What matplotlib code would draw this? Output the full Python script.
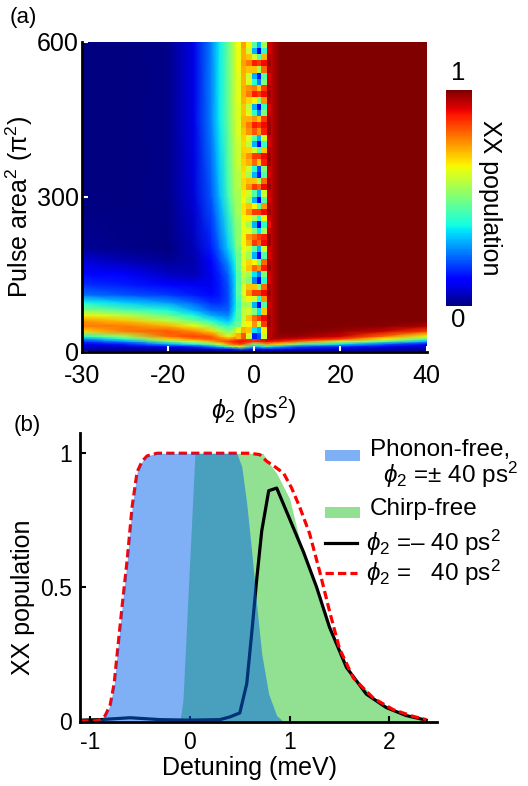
import matplotlib
matplotlib.use("Agg")
import matplotlib.pyplot as plt
import numpy as np
from matplotlib.lines import Line2D
from matplotlib.patches import Rectangle

plt.rcParams["font.family"] = ["Liberation Sans", "DejaVu Sans"]
plt.rcParams["mathtext.fontset"] = "custom"
plt.rcParams["mathtext.rm"] = "Liberation Sans"
plt.rcParams["mathtext.it"] = "Liberation Sans:italic"
plt.rcParams["mathtext.fallback"] = "stixsans"
plt.rcParams["axes.unicode_minus"] = False

# ---------------- panel (a): XX population vs phi2 and pulse area ----------------
map_phi2 = [-40, -30, -20, -14, -10, -8, -6, -4.5, -3, 0, 3, 4.5, 6, 10, 20, 30, 40]
map_area = [0, 5, 10, 15, 20, 25, 30, 40, 50, 60, 70, 80, 95, 110, 130, 150, 175, 200, 300, 450, 600]
# one row per pulse area, one value per phi2 column
map_pop = [
    [0.00, 0.00, 0.00, 0.00, 0.00, 0.00, 0.00, 0.00, 0.00, 0.00, 0.00, 0.00, 0.00, 0.00, 0.00, 0.00, 0.00],
    [0.03, 0.03, 0.03, 0.04, 0.06, 0.08, 0.12, 0.15, 0.20, 0.10, 0.12, 0.10, 0.10, 0.08, 0.06, 0.04, 0.03],
    [0.06, 0.07, 0.12, 0.15, 0.25, 0.33, 0.45, 0.55, 0.60, 0.30, 0.40, 0.33, 0.30, 0.20, 0.15, 0.10, 0.06],
    [0.10, 0.15, 0.30, 0.38, 0.50, 0.62, 0.75, 0.82, 0.85, 0.50, 0.75, 0.70, 0.68, 0.50, 0.35, 0.22, 0.12],
    [0.17, 0.27, 0.48, 0.60, 0.72, 0.80, 0.85, 0.88, 0.90, 0.85, 0.90, 0.88, 0.87, 0.80, 0.60, 0.45, 0.30],
    [0.27, 0.40, 0.68, 0.78, 0.82, 0.80, 0.75, 0.80, 0.85, 0.88, 0.95, 0.95, 0.95, 0.92, 0.85, 0.65, 0.45],
    [0.40, 0.55, 0.80, 0.84, 0.82, 0.72, 0.62, 0.70, 0.78, 0.60, 0.90, 0.97, 0.98, 0.98, 0.93, 0.80, 0.62],
    [0.68, 0.78, 0.82, 0.76, 0.68, 0.57, 0.50, 0.57, 0.65, 0.60, 0.90, 0.96, 1.00, 1.00, 0.98, 0.93, 0.85],
    [0.78, 0.78, 0.72, 0.63, 0.53, 0.46, 0.40, 0.47, 0.52, 0.60, 0.90, 0.96, 1.00, 1.00, 1.00, 0.99, 0.96],
    [0.75, 0.70, 0.58, 0.49, 0.40, 0.35, 0.32, 0.40, 0.47, 0.60, 0.90, 0.96, 1.00, 1.00, 1.00, 1.00, 1.00],
    [0.65, 0.58, 0.48, 0.38, 0.30, 0.27, 0.26, 0.37, 0.47, 0.60, 0.90, 0.96, 1.00, 1.00, 1.00, 1.00, 1.00],
    [0.52, 0.46, 0.39, 0.30, 0.23, 0.22, 0.22, 0.35, 0.46, 0.60, 0.90, 0.96, 1.00, 1.00, 1.00, 1.00, 1.00],
    [0.38, 0.33, 0.28, 0.22, 0.17, 0.17, 0.20, 0.33, 0.45, 0.60, 0.90, 0.96, 1.00, 1.00, 1.00, 1.00, 1.00],
    [0.24, 0.21, 0.18, 0.15, 0.13, 0.15, 0.20, 0.33, 0.45, 0.60, 0.90, 0.96, 1.00, 1.00, 1.00, 1.00, 1.00],
    [0.17, 0.15, 0.12, 0.10, 0.10, 0.15, 0.21, 0.33, 0.45, 0.60, 0.90, 0.96, 1.00, 1.00, 1.00, 1.00, 1.00],
    [0.13, 0.11, 0.06, 0.05, 0.10, 0.16, 0.23, 0.34, 0.45, 0.60, 0.90, 0.96, 1.00, 1.00, 1.00, 1.00, 1.00],
    [0.08, 0.05, 0.02, 0.04, 0.12, 0.19, 0.27, 0.37, 0.47, 0.60, 0.90, 0.96, 1.00, 1.00, 1.00, 1.00, 1.00],
    [0.02, 0.01, 0.00, 0.05, 0.15, 0.23, 0.33, 0.43, 0.52, 0.60, 0.90, 0.96, 1.00, 1.00, 1.00, 1.00, 1.00],
    [0.00, 0.00, 0.01, 0.08, 0.21, 0.31, 0.43, 0.54, 0.61, 0.60, 0.90, 0.96, 1.00, 1.00, 1.00, 1.00, 1.00],
    [0.00, 0.00, 0.01, 0.09, 0.25, 0.36, 0.48, 0.58, 0.65, 0.60, 0.90, 0.96, 1.00, 1.00, 1.00, 1.00, 1.00],
    [0.00, 0.00, 0.01, 0.09, 0.25, 0.36, 0.48, 0.58, 0.65, 0.60, 0.90, 0.96, 1.00, 1.00, 1.00, 1.00, 1.00],
]

# oscillating stripe around phi2 = 0 (pixel cells, read row by row)
stripe_phi2_edges = [-4.26, -3.02, -1.79, -0.54, 0.54, 1.63, 2.86, 3.95]
stripe_area_edges = np.arange(24, 601, 12)
stripe_pop = [
    [0.72, 0.82, 0.60, 0.15, 0.20, 0.60, 0.95],
    [0.62, 0.72, 0.70, 0.35, 0.30, 0.65, 0.95],
    [0.48, 0.62, 0.65, 0.75, 0.60, 0.85, 0.97],
    [0.44, 0.58, 0.70, 0.80, 0.85, 0.90, 0.97],
    [0.44, 0.58, 0.60, 0.50, 0.35, 0.70, 0.95],
    [0.42, 0.55, 0.55, 0.30, 0.10, 0.45, 0.93],
    [0.44, 0.58, 0.65, 0.60, 0.40, 0.75, 0.95],
    [0.46, 0.62, 0.75, 0.85, 0.85, 0.90, 0.97],
    [0.46, 0.60, 0.70, 0.70, 0.50, 0.80, 0.95],
    [0.45, 0.56, 0.50, 0.25, 0.12, 0.40, 0.92],
    [0.45, 0.58, 0.55, 0.35, 0.25, 0.50, 0.93],
    [0.47, 0.62, 0.70, 0.80, 0.75, 0.88, 0.97],
    [0.48, 0.62, 0.68, 0.65, 0.50, 0.80, 0.95],
    [0.48, 0.61, 0.55, 0.30, 0.12, 0.45, 0.92],
    [0.50, 0.63, 0.60, 0.45, 0.30, 0.60, 0.93],
    [0.52, 0.65, 0.72, 0.85, 0.80, 0.90, 0.97],
    [0.52, 0.65, 0.75, 0.80, 0.85, 0.88, 0.97],
    [0.52, 0.63, 0.62, 0.50, 0.35, 0.55, 0.93],
    [0.52, 0.63, 0.55, 0.30, 0.10, 0.40, 0.90],
    [0.53, 0.65, 0.65, 0.55, 0.40, 0.65, 0.93],
    [0.55, 0.67, 0.75, 0.85, 0.85, 0.90, 0.97],
    [0.55, 0.67, 0.70, 0.65, 0.45, 0.75, 0.95],
    [0.55, 0.65, 0.55, 0.30, 0.12, 0.45, 0.92],
    [0.55, 0.66, 0.60, 0.45, 0.30, 0.60, 0.93],
    [0.57, 0.68, 0.75, 0.85, 0.80, 0.90, 0.97],
    [0.57, 0.68, 0.70, 0.70, 0.55, 0.80, 0.95],
    [0.57, 0.67, 0.55, 0.30, 0.15, 0.45, 0.92],
    [0.58, 0.68, 0.60, 0.40, 0.20, 0.50, 0.93],
    [0.59, 0.69, 0.72, 0.80, 0.70, 0.88, 0.97],
    [0.59, 0.70, 0.75, 0.85, 0.85, 0.90, 0.97],
    [0.59, 0.69, 0.68, 0.60, 0.45, 0.70, 0.95],
    [0.59, 0.68, 0.58, 0.30, 0.12, 0.42, 0.92],
    [0.60, 0.69, 0.62, 0.45, 0.30, 0.60, 0.93],
    [0.61, 0.70, 0.75, 0.82, 0.75, 0.88, 0.97],
    [0.61, 0.72, 0.78, 0.88, 0.85, 0.90, 0.97],
    [0.61, 0.72, 0.72, 0.75, 0.70, 0.85, 0.96],
    [0.61, 0.70, 0.62, 0.40, 0.25, 0.50, 0.93],
    [0.61, 0.70, 0.58, 0.30, 0.12, 0.42, 0.92],
    [0.62, 0.72, 0.68, 0.65, 0.50, 0.75, 0.95],
    [0.62, 0.73, 0.78, 0.88, 0.85, 0.90, 0.97],
    [0.62, 0.73, 0.75, 0.78, 0.70, 0.85, 0.96],
    [0.62, 0.72, 0.62, 0.40, 0.25, 0.50, 0.93],
    [0.62, 0.72, 0.60, 0.30, 0.15, 0.45, 0.92],
    [0.63, 0.73, 0.70, 0.70, 0.55, 0.80, 0.95],
    [0.63, 0.74, 0.78, 0.88, 0.85, 0.90, 0.97],
    [0.63, 0.73, 0.70, 0.60, 0.45, 0.72, 0.95],
    [0.63, 0.73, 0.60, 0.30, 0.10, 0.40, 0.92],
    [0.64, 0.74, 0.65, 0.45, 0.30, 0.55, 0.93],
]

map_xticks = [-40, -20, 0, 20, 40]
map_xtick_labels = ["-30", "-20", "0", "20", "40"]
map_yticks = [0, 300, 600]

# ---------------- panel (b): XX population vs detuning ----------------
phonon_free_x = [-0.95, -0.9, -0.85, -0.8, -0.76, -0.73, -0.68, -0.63, -0.58, -0.53, -0.48, -0.43, -0.33,
                 0.47, 0.52, 0.57, 0.62, 0.67, 0.72, 0.79, 0.87, 0.93]
phonon_free_y = [0.0, 0.005, 0.02, 0.06, 0.14, 0.25, 0.43, 0.6, 0.8, 0.93, 0.97, 0.99, 1.0,
                 1.0, 0.95, 0.81, 0.63, 0.43, 0.25, 0.10, 0.02, 0.0]

chirp_free_x = [-0.10, -0.07, 0.05, 0.73, 0.80, 0.87, 1.0, 1.13, 1.27, 1.44, 1.64, 1.91, 2.17, 2.37]
chirp_free_y = [0.0, 0.08, 1.0, 1.0, 0.96, 0.925, 0.83, 0.63, 0.48, 0.30, 0.165, 0.067, 0.016, 0.0]

neg_chirp_x = [-1.1, -0.9, -0.6, -0.3, 0.0, 0.3, 0.4, 0.5, 0.57, 0.62, 0.67, 0.72, 0.79, 0.87,
               1.14, 1.27, 1.40, 1.57, 1.77, 1.97, 2.17, 2.37]
neg_chirp_y = [0.003, 0.005, 0.012, 0.005, 0.003, 0.005, 0.015, 0.03, 0.14, 0.33, 0.53, 0.71, 0.86, 0.87,
               0.63, 0.50, 0.35, 0.20, 0.10, 0.05, 0.02, 0.003]

pos_chirp_x = [-1.1, -0.95, -0.9, -0.85, -0.8, -0.76, -0.73, -0.68, -0.63, -0.58, -0.53, -0.48, -0.43,
               -0.33, 0.0, 0.3, 0.6, 0.7, 0.77, 0.85, 0.94, 1.02, 1.10, 1.20, 1.30, 1.40, 1.50, 1.64,
               1.84, 2.04, 2.24, 2.37]
pos_chirp_y = [0.0, 0.0, 0.005, 0.02, 0.06, 0.14, 0.25, 0.43, 0.6, 0.8, 0.93, 0.97, 0.99,
               1.0, 1.0, 1.0, 1.0, 0.995, 0.97, 0.95, 0.925, 0.87, 0.80, 0.70, 0.56, 0.41, 0.27, 0.16,
               0.085, 0.042, 0.017, 0.005]

blue_fill = "#0061eb"
green_fill = "#92e092"

W, H = 528, 786


def fx(px):
    return px / W


def fy(py):
    return 1 - py / H


fig = plt.figure(figsize=(W / 100, H / 100), dpi=100)

# ---- (a) ----
ax_map = fig.add_axes([fx(81.7), fy(351.7), 345 / W, 310 / H])
mesh = ax_map.pcolormesh(map_phi2, map_area, np.array(map_pop), shading="gouraud",
                         cmap="jet", vmin=0, vmax=1)
ax_map.pcolormesh(stripe_phi2_edges, stripe_area_edges, np.array(stripe_pop), shading="flat",
                  cmap="jet", vmin=0, vmax=1)
ax_map.set_xlim(-40, 40)
ax_map.set_ylim(0, 600)
ax_map.set_xticks(map_xticks)
ax_map.set_xticklabels(map_xtick_labels)
ax_map.set_yticks(map_yticks)
ax_map.tick_params(direction="in", color="white", length=4, width=1.5, labelsize=18)
ax_map.tick_params(axis="x", pad=9)
ax_map.tick_params(axis="y", pad=2)
for side in ["top", "right"]:
    ax_map.spines[side].set_visible(False)
for side in ["left", "bottom"]:
    ax_map.spines[side].set_linewidth(2)
ax_map.set_ylabel("Pulse area$^2$ ($\\mathrm{π}^2$)", fontsize=18)
ax_map.yaxis.set_label_coords(-0.135, 0.467)
ax_map.set_xlabel("$\\phi_2$ (ps$^2$)", fontsize=18)
ax_map.xaxis.set_label_coords(0.5, -0.14)

cax = fig.add_axes([fx(446), fy(306), 26 / W, 216 / H])
cb = fig.colorbar(mesh, cax=cax)
cb.outline.set_visible(False)
cax.set_yticks([])
fig.text(fx(458), fy(73), "1", ha="center", va="center", fontsize=18.5)
fig.text(fx(458), fy(320), "0", ha="center", va="center", fontsize=18.5)
fig.text(fx(490), fy(198), "XX population", rotation=270, ha="center", va="center", fontsize=18)

fig.text(fx(23), fy(17), "(a)", ha="center", va="center", fontsize=16)
fig.text(fx(27), fy(425), "(b)", ha="center", va="center", fontsize=16)

# ---- (b) ----
ax_b = fig.add_axes([fx(80), fy(722.3), 357 / W, 289.4 / H])
ax_b.fill_between(chirp_free_x, 0, chirp_free_y, color=green_fill, lw=0, zorder=1.5)
ax_b.plot(neg_chirp_x, neg_chirp_y, color="black", lw=2.3, zorder=2)
ax_b.plot(pos_chirp_x, pos_chirp_y, color="red", lw=2.3, ls=(0, (2.6, 1.3)), zorder=2.1)
ax_b.fill_between(phonon_free_x, 0, phonon_free_y, color=blue_fill, alpha=0.5, lw=0, zorder=2.3)
ax_b.set_xlim(-1.103, 2.478)
ax_b.set_ylim(-0.005, 1.076)
ax_b.set_xticks([-1, 0, 1, 2])
ax_b.set_yticks([0, 0.5, 1])
ax_b.set_yticklabels(["0", "0.5", "1"])
ax_b.tick_params(direction="in", length=4, width=1.5, labelsize=16.5, pad=6)
for side in ["top", "right"]:
    ax_b.spines[side].set_visible(False)
for side in ["left", "bottom"]:
    ax_b.spines[side].set_linewidth(2)
ax_b.set_xlabel("Detuning (meV)", fontsize=18)
ax_b.xaxis.set_label_coords(0.476, -0.115)
ax_b.set_ylabel("XX population", fontsize=18)
ax_b.yaxis.set_label_coords(-0.125, 0.433)

# legend drawn by hand to keep the MATLAB-style layout
fig.add_artist(Rectangle((fx(325), fy(461)), 35 / W, 11 / H, transform=fig.transFigure,
                         facecolor=blue_fill, alpha=0.5, lw=0))
fig.add_artist(Rectangle((fx(325), fy(518)), 35 / W, 11 / H, transform=fig.transFigure,
                         facecolor=green_fill, lw=0))
fig.add_artist(Line2D([fx(325), fx(357)], [fy(543), fy(543)], transform=fig.transFigure,
                      color="black", lw=2.3))
fig.add_artist(Line2D([fx(325), fx(357)], [fy(573), fy(573)], transform=fig.transFigure,
                      color="red", lw=2.3, ls=(0, (2.6, 1.3))))
leg_size = 17.5
# baseline of a two-line text is that of its last line
fig.text(fx(370), fy(483), "Phonon-free,\n  $\\phi_2$ =± 40 ps$^2$", va="baseline",
         fontsize=leg_size, linespacing=0.95)
fig.text(fx(370), fy(515), "Chirp-free", va="baseline", fontsize=leg_size)
fig.text(fx(366), fy(551), "$\\phi_2$ =– 40 ps$^2$", va="baseline", fontsize=leg_size)
fig.text(fx(366), fy(581), "$\\phi_2$ =   40 ps$^2$", va="baseline", fontsize=leg_size)

fig.savefig("out.png", dpi=100)
